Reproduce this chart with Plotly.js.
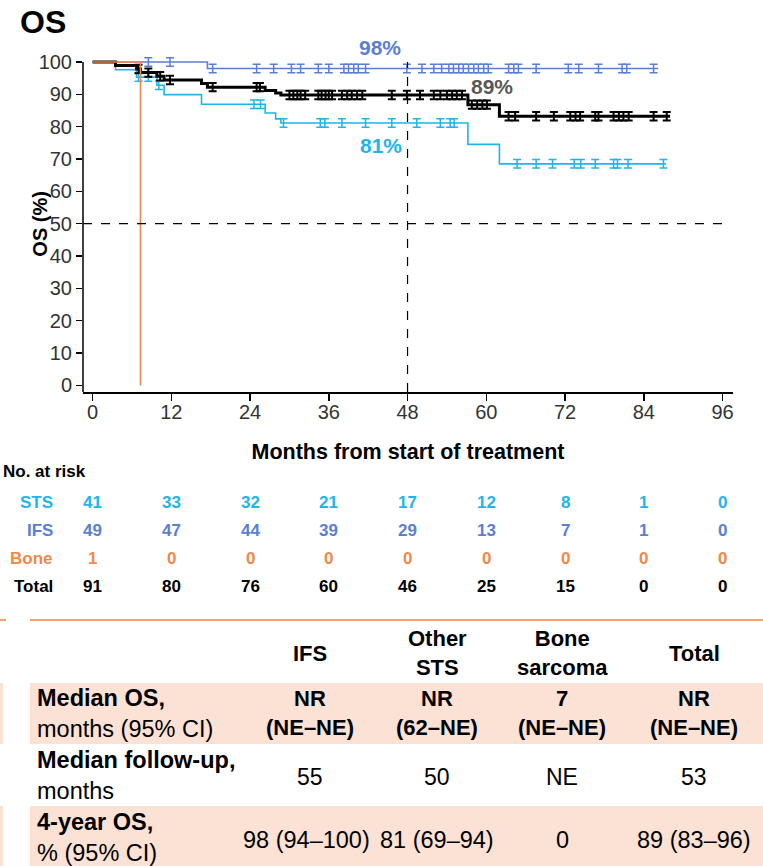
<!DOCTYPE html>
<html>
<head>
<meta charset="utf-8">
<script src="https://cdn.plot.ly/plotly-3.0.1.min.js"></script>
<style>html,body{margin:0;padding:0;background:#fff}#chart{width:763px;height:866px}</style>
</head>
<body>
<div id="chart"></div>
<script>
// ---------- DATA ----------
// Kaplan–Meier step points (months, OS %)
const ifsTime = [0, 17.5, 86.2];
const ifsSurv = [100, 97.96, 97.96];
const ifsCensor = [8.5, 11.8, 18.3, 25.0, 27.6, 30.3, 31.7, 34.4, 36.0, 38.3, 39.0, 39.8, 40.5, 41.6, 47.9, 50.2, 52.0, 53.2, 54.3, 55.0, 55.8, 56.5, 57.3, 58.1, 58.8, 59.6, 60.3, 63.4, 64.2, 64.9, 67.6, 72.5, 74.1, 77.1, 80.7, 81.4, 85.5];

const stsTime = [0, 3.5, 6.7, 9.8, 10.9, 16.6, 26.3, 27.9, 28.7, 57.2, 62.0, 87.4];
const stsSurv = [100, 97.6, 95.3, 92.8, 89.9, 86.9, 84.2, 82.4, 81.1, 74.5, 68.5, 68.5];
const stsCensor = [7.0, 8.5, 10.1, 24.6, 25.6, 29.1, 34.7, 35.4, 38.0, 41.6, 45.6, 49.4, 53.0, 54.5, 55.1, 64.7, 67.6, 70.1, 73.4, 74.4, 76.6, 79.4, 80.0, 81.6, 87.0];

const boneTime = [0, 7.3, 7.3];
const boneSurv = [100, 100, 0];

const totalTime = [0, 3.5, 6.7, 7.3, 9.8, 10.9, 16.6, 17.5, 26.3, 27.9, 28.7, 57.2, 62.0, 88.0];
const totalSurv = [100, 98.9, 97.8, 96.7, 95.6, 94.4, 93.3, 92.2, 91.2, 90.4, 89.8, 86.8, 83.2, 83.2];
const totalCensor = [7.0, 8.5, 10.3, 11.8, 18.3, 25.0, 25.5, 30.0, 30.6, 31.2, 31.7, 32.4, 34.4, 34.9, 35.5, 36.0, 36.5, 38.0, 38.8, 39.5, 40.3, 41.1, 45.6, 47.9, 49.9, 52.0, 53.0, 54.0, 54.8, 55.5, 56.3, 57.8, 58.6, 59.4, 60.1, 63.4, 64.4, 67.6, 70.3, 72.8, 73.6, 74.3, 76.6, 77.1, 79.4, 80.2, 80.9, 81.7, 85.5, 87.5];

// Number at risk
const riskMonths = [0, 12, 24, 36, 48, 60, 72, 84, 96];
const riskSTS = [41, 33, 32, 21, 17, 12, 8, 1, 0];
const riskIFS = [49, 47, 44, 39, 29, 13, 7, 1, 0];
const riskBone = [1, 0, 0, 0, 0, 0, 0, 0, 0];
const riskTotal = [91, 80, 76, 60, 46, 25, 15, 0, 0];
const riskLabels = ['STS', 'IFS', 'Bone', 'Total'];

// Landmark labels at 48 months
const labelIFS = '98%';
const labelTotal = '89%';
const labelSTS = '81%';

// Summary table
const tableHeaders = ['IFS', 'Other<br>STS', 'Bone<br>sarcoma', 'Total'];
const tableRowLabels = ['<b>Median OS,</b><br>months (95% CI)', '<b>Median follow-up,</b><br>months', '<b>4-year OS,</b><br>% (95% CI)'];
const medianOS = ['NR<br>(NE–NE)', 'NR<br>(62–NE)', '7<br>(NE–NE)', 'NR<br>(NE–NE)'];
const medianFU = ['55', '50', 'NE', '53'];
const os4y = ['98 (94–100)', '81 (69–94)', '0', '89 (83–96)'];

// ---------- STYLE ----------
const FONT = 'Liberation Sans, Arial, Helvetica, sans-serif';
const C_IFS = '#5A7FD2';
const C_STS = '#1FB4EA';
const C_BONE = '#F0884A';
const C_TOT = '#000000';
const PEACH = '#FBE2D4';
const W = 763, H = 866, ML = 83, MR = 30, MT = 49, MB = 474;
const PW = W - ML - MR, PH = H - MT - MB;
const PX = px => (px - ML) / PW;
const PY = py => (H - MB - py) / PH;

function levelAt(T, S, t) {
  let v = S[0];
  for (let i = 0; i < T.length; i++) if (T[i] <= t) v = S[i];
  return v;
}
function censorTrace(T, S, C, color, thick, name) {
  return {
    x: C, y: C.map(t => levelAt(T, S, t)), mode: 'markers', type: 'scatter',
    marker: {size: 2, opacity: 0, color: color}, hoverinfo: 'skip', showlegend: false, name: name,
    error_y: {type: 'constant', value: 1.3, width: 4, thickness: thick, color: color}
  };
}
function curve(T, S, color, w, name) {
  return {x: T, y: S, mode: 'lines', type: 'scatter', line: {shape: 'hv', color: color, width: w}, name: name, showlegend: false};
}

const traces = [
  curve(ifsTime, ifsSurv, C_IFS, 1.6, 'IFS'),
  censorTrace(ifsTime, ifsSurv, ifsCensor, C_IFS, 1.5, 'IFS censored'),
  curve(stsTime, stsSurv, C_STS, 1.6, 'STS'),
  censorTrace(stsTime, stsSurv, stsCensor, C_STS, 1.5, 'STS censored'),
  curve(totalTime, totalSurv, C_TOT, 3, 'Total'),
  censorTrace(totalTime, totalSurv, totalCensor, C_TOT, 2, 'Total censored'),
  curve(boneTime, boneSurv, C_BONE, 1.6, 'Bone')
];

const ann = [];
// y-axis title (placed close to the two-digit tick labels, as in the source)
ann.push({xref: 'paper', yref: 'y', x: PX(40), y: 50, textangle: -90, xanchor: 'center', yanchor: 'middle', text: '<b>OS (%)</b>', showarrow: false, font: {family: FONT, size: 20, color: '#000'}});
// landmark labels
ann.push({xref: 'x', yref: 'y', x: 43.8, y: 100, yshift: 14, text: '<b>' + labelIFS + '</b>', showarrow: false, font: {family: FONT, size: 21, color: C_IFS}});
ann.push({xref: 'x', yref: 'y', x: 60.9, y: 92.3, text: '<b>' + labelTotal + '</b>', showarrow: false, font: {family: FONT, size: 21, color: '#595959'}});
ann.push({xref: 'x', yref: 'y', x: 44.0, y: 74.3, text: '<b>' + labelSTS + '</b>', showarrow: false, font: {family: FONT, size: 21, color: C_STS}});

// number at risk
ann.push({xref: 'paper', yref: 'paper', x: PX(1), y: PY(472), xanchor: 'left', yanchor: 'middle', text: '<b>No. at risk</b>', showarrow: false, font: {family: FONT, size: 17, color: '#000'}});
const riskRows = [riskSTS, riskIFS, riskBone, riskTotal];
const riskColors = [C_STS, C_IFS, C_BONE, C_TOT];
const riskY = [502, 530, 558, 586];
riskRows.forEach((row, r) => {
  ann.push({xref: 'paper', yref: 'paper', x: PX(55), y: PY(riskY[r]), xanchor: 'right', yanchor: 'middle', text: '<b>' + riskLabels[r] + '</b>', showarrow: false, font: {family: FONT, size: 17, color: riskColors[r]}});
  row.forEach((v, i) => {
    ann.push({xref: 'x', yref: 'paper', x: riskMonths[i], y: PY(riskY[r]), xanchor: 'center', yanchor: 'middle', text: '<b>' + v + '</b>', showarrow: false, font: {family: FONT, size: 17, color: riskColors[r]}});
  });
});

// summary table
const colX = [310, 437, 562, 694];
tableHeaders.forEach((h, i) => ann.push({xref: 'paper', yref: 'paper', x: PX(colX[i]), y: PY(653), xanchor: 'center', yanchor: 'middle', text: '<b>' + h + '</b>', showarrow: false, font: {family: FONT, size: 22, color: '#000'}}));
const rowY = [713, 775, 837];
tableRowLabels.forEach((t, r) => ann.push({xref: 'paper', yref: 'paper', x: PX(35), y: PY(rowY[r]), xanchor: 'left', yanchor: 'middle', align: 'left', text: t, showarrow: false, font: {family: FONT, size: 23.5, color: '#000'}}));
medianOS.forEach((t, i) => ann.push({xref: 'paper', yref: 'paper', x: PX(colX[i]), y: PY(rowY[0]), xanchor: 'center', yanchor: 'middle', text: '<b>' + t + '</b>', showarrow: false, font: {family: FONT, size: 22, color: '#000'}}));
medianFU.forEach((t, i) => ann.push({xref: 'paper', yref: 'paper', x: PX(colX[i]), y: PY(rowY[1] + 2), xanchor: 'center', yanchor: 'middle', text: t, showarrow: false, font: {family: FONT, size: 23, color: '#000'}}));
os4y.forEach((t, i) => ann.push({xref: 'paper', yref: 'paper', x: PX(colX[i] - (i === 0 ? 4 : 0)), y: PY(rowY[2] + 3), xanchor: 'center', yanchor: 'middle', text: t, showarrow: false, font: {family: FONT, size: 23.5, color: '#000'}}));

const shapes = [
  // y axis line (detached style)
  {type: 'line', xref: 'paper', yref: 'y', x0: 0, x1: 0, y0: -2.04, y1: 100, line: {color: '#000', width: 1.5}},
  // reference dashed lines
  {type: 'line', xref: 'x', yref: 'y', x0: -1.46, x1: 96, y0: 50, y1: 50, line: {color: '#000', width: 1.2, dash: 'dash'}},
  {type: 'line', xref: 'x', yref: 'y', x0: 48, x1: 48, y0: -2.04, y1: 100, line: {color: '#000', width: 1.2, dash: 'dash'}},
  // table decoration
  {type: 'line', xref: 'paper', yref: 'paper', x0: PX(30), x1: PX(763), y0: PY(620), y1: PY(620), line: {color: '#F4A26C', width: 2}},
  {type: 'line', xref: 'paper', yref: 'paper', x0: PX(0), x1: PX(6), y0: PY(620), y1: PY(620), line: {color: '#F4A26C', width: 2}},
  {type: 'rect', xref: 'paper', yref: 'paper', x0: PX(30), x1: PX(763), y0: PY(744), y1: PY(683), fillcolor: PEACH, line: {width: 0}, layer: 'below'},
  {type: 'rect', xref: 'paper', yref: 'paper', x0: PX(30), x1: PX(763), y0: PY(866), y1: PY(806), fillcolor: PEACH, line: {width: 0}, layer: 'below'},
  {type: 'rect', xref: 'paper', yref: 'paper', x0: PX(0), x1: PX(3), y0: PY(744), y1: PY(683), fillcolor: PEACH, line: {width: 0}, layer: 'below'},
  {type: 'rect', xref: 'paper', yref: 'paper', x0: PX(0), x1: PX(3), y0: PY(866), y1: PY(806), fillcolor: PEACH, line: {width: 0}, layer: 'below'}
];

const layout = {
  width: W, height: H,
  margin: {l: ML, r: MR, t: MT, b: MB, pad: 0},
  paper_bgcolor: '#fff', plot_bgcolor: 'rgba(0,0,0,0)',
  showlegend: false,
  font: {family: FONT, color: '#000'},
  title: {text: '<b>OS</b>', x: 20 / W, xanchor: 'left', xref: 'container', y: 1 - 22 / H, yanchor: 'middle', yref: 'container', font: {family: FONT, size: 32, color: '#000'}},
  xaxis: {
    range: [-1.46, 97.6], tickvals: riskMonths, ticktext: riskMonths.map(String),
    ticks: 'outside', ticklen: 7, tickwidth: 1.5, tickcolor: '#000', ticklabelstandoff: -6,
    showline: true, linecolor: '#000', linewidth: 1.5, showgrid: false, zeroline: false,
    tickfont: {family: FONT, size: 20, color: '#333'},
    title: {text: '<b>Months from start of treatment</b>', standoff: 22, font: {family: FONT, size: 21.5, color: '#000'}}
  },
  yaxis: {
    range: [-2.04, 104], tickvals: [0, 10, 20, 30, 40, 50, 60, 70, 80, 90, 100],
    ticks: 'outside', ticklen: 6, tickwidth: 1.5, tickcolor: '#000',
    showline: false, showgrid: false, zeroline: false,
    tickfont: {family: FONT, size: 20, color: '#333'}
  },
  annotations: ann,
  shapes: shapes
};

Plotly.newPlot('chart', traces, layout, {displayModeBar: false, staticPlot: true});
</script>
</body>
</html>
